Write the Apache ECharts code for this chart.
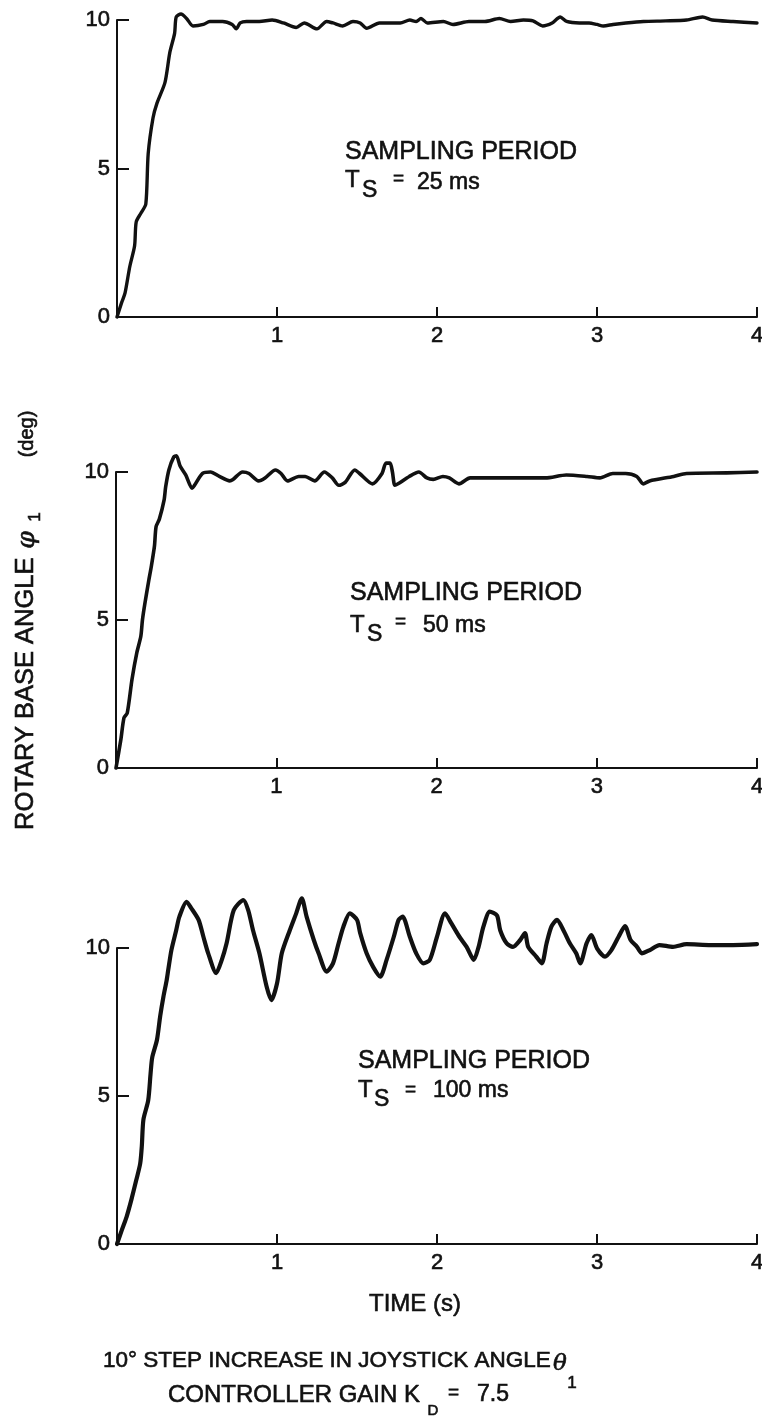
<!DOCTYPE html>
<html><head><meta charset="utf-8">
<script src="https://cdn.jsdelivr.net/npm/echarts@6/dist/echarts.min.js"></script>
<style>html,body{margin:0;padding:0;background:#fff}#c{width:762px;height:1416px}</style>
</head><body><div id="c"></div>
<script>
// ---- data (time in s, rotary base angle in deg) ----
const time1  = [0,0.03,0.05,0.08,0.11,0.12,0.15,0.18,0.195,0.225,0.25,0.3,0.33,0.36,0.37,0.40,0.435,0.475,0.54,0.58,0.66,0.72,0.745,0.77,0.81,0.89,0.97,1.04,1.12,1.17,1.25,1.31,1.35,1.41,1.475,1.52,1.56,1.64,1.77,1.83,1.87,1.90,1.94,2.04,2.1,2.2,2.3,2.39,2.46,2.54,2.6,2.66,2.72,2.77,2.81,2.89,2.95,3.0,3.04,3.1,3.18,3.29,3.43,3.56,3.66,3.72,3.85,4.0];
const angle1 = [0,0.5,0.8,1.7,2.4,3.2,3.5,3.8,5.5,6.7,7.2,7.9,8.9,9.55,10.1,10.2,10.05,9.8,9.85,9.95,9.95,9.85,9.7,9.9,9.95,9.95,10.0,9.9,9.75,9.9,9.7,9.95,9.9,9.8,9.95,9.9,9.72,9.9,9.9,10.0,9.95,10.05,9.9,9.95,9.85,9.95,9.95,10.05,9.95,10.0,9.97,9.8,9.9,10.1,9.95,9.9,9.9,9.85,9.8,9.85,9.9,9.95,9.97,10.0,10.1,10.0,9.95,9.9];

const time2  = [0,0.03,0.05,0.07,0.1,0.13,0.155,0.165,0.18,0.205,0.22,0.24,0.25,0.27,0.3,0.31,0.33,0.36,0.377,0.40,0.435,0.475,0.49,0.54,0.59,0.645,0.71,0.73,0.79,0.83,0.89,0.93,0.995,1.03,1.07,1.14,1.18,1.24,1.30,1.35,1.39,1.43,1.49,1.52,1.6,1.66,1.685,1.71,1.725,1.74,1.76,1.83,1.89,1.94,1.98,2.04,2.08,2.14,2.21,2.35,2.56,2.68,2.81,2.94,3.02,3.1,3.18,3.25,3.29,3.33,3.48,3.56,3.81,4.0];
const angle2 = [0,0.95,1.7,1.85,3.0,3.9,4.45,5.0,5.55,6.35,6.8,7.5,8.15,8.4,9.05,9.5,10.07,10.5,10.55,10.2,9.9,9.45,9.55,9.95,10.0,9.85,9.7,9.75,10.0,9.95,9.7,9.8,10.07,9.95,9.7,9.85,9.85,9.7,10.0,9.8,9.55,9.65,10.07,9.95,9.6,9.95,10.3,10.3,10.0,9.55,9.6,9.85,10.0,9.8,9.75,9.85,9.8,9.6,9.8,9.8,9.8,9.8,9.9,9.85,9.8,9.95,9.95,9.85,9.6,9.7,9.85,9.95,9.97,10.0];

const time3  = [0,0.03,0.06,0.09,0.12,0.145,0.155,0.165,0.195,0.21,0.22,0.25,0.27,0.29,0.31,0.32,0.34,0.37,0.39,0.435,0.465,0.51,0.54,0.57,0.62,0.655,0.685,0.73,0.79,0.82,0.85,0.89,0.935,0.965,1.0,1.03,1.08,1.12,1.155,1.185,1.23,1.26,1.31,1.35,1.385,1.415,1.455,1.5,1.52,1.56,1.6,1.645,1.685,1.73,1.76,1.785,1.83,1.87,1.915,1.955,2.0,2.05,2.09,2.14,2.185,2.23,2.26,2.29,2.33,2.375,2.395,2.435,2.475,2.52,2.55,2.57,2.62,2.655,2.685,2.715,2.75,2.79,2.83,2.87,2.895,2.935,2.965,3.0,3.05,3.09,3.135,3.175,3.21,3.25,3.28,3.33,3.39,3.475,3.56,3.71,3.85,4.0];
const angle3 = [0,0.47,0.92,1.5,2.15,2.72,3.3,4.2,4.85,5.77,6.3,6.9,7.7,8.35,8.9,9.25,9.93,10.6,11.06,11.56,11.34,10.95,10.38,9.82,9.15,9.6,10.16,11.28,11.62,11.28,10.6,9.82,8.7,8.24,8.8,9.82,10.6,11.17,11.68,11.06,10.27,9.82,9.2,9.48,10.16,10.72,11.17,10.95,10.5,9.82,9.37,9.03,9.6,10.38,10.95,11.06,10.38,9.82,9.48,9.6,10.38,11.17,10.83,10.38,10.04,9.6,10.04,10.72,11.23,11.1,10.6,10.16,10.04,10.27,10.5,10.04,9.71,9.48,10.16,10.72,10.95,10.6,10.16,9.82,9.48,10.16,10.44,9.99,9.71,9.93,10.38,10.74,10.27,10.04,9.82,9.93,10.1,10.04,10.13,10.1,10.1,10.13];

const samplingPeriods = ['25 ms', '50 ms', '100 ms'];
const yTickValues = [0, 5, 10];
const xTickValues = [1, 2, 3, 4];

// ---- layout ----
const FONT = '"Liberation Sans", Arial, Helvetica, sans-serif';
const SERIF = '"DejaVu Serif", "Liberation Serif", serif';
const INK = '#111';
const grids = [
  {left: 117, width: 640, top: 20, height: 297},
  {left: 116, width: 641, top: 472, height: 296},
  {left: 117, width: 640, top: 948, height: 296}
];
const lineWidths = [3.4, 3.6, 4.2];
const times = [time1, time2, time3];
const angles = [angle1, angle2, angle3];

const chart = echarts.init(document.getElementById('c'), null, {renderer: 'canvas'});

const labelStyle = {color: INK, fontSize: 22, fontFamily: FONT, textBorderColor: INK, textBorderWidth: 0.6};
const xAxes = grids.map((g, i) => ({
  type: 'value', gridIndex: i, min: 0, max: 4, interval: 1,
  axisLine: {show: true, onZero: false, lineStyle: {color: INK, width: 2}},
  axisTick: {show: true, inside: true, length: 10, lineStyle: {color: INK, width: 2}},
  axisLabel: Object.assign({show: true, margin: 8,
    formatter: v => (xTickValues.indexOf(v) >= 0 ? String(v) : '')}, labelStyle),
  splitLine: {show: false}
}));
const yAxes = grids.map((g, i) => ({
  type: 'value', gridIndex: i, min: 0, max: 10, interval: 5,
  axisLine: {show: true, lineStyle: {color: INK, width: 2}},
  axisTick: {show: true, inside: true, length: 12, lineStyle: {color: INK, width: 2}},
  axisLabel: Object.assign({show: true, margin: 7,
    formatter: v => (yTickValues.indexOf(v) >= 0 ? String(v) : '')}, labelStyle),
  splitLine: {show: false}
}));
const series = grids.map((g, i) => ({
  type: 'line', xAxisIndex: i, yAxisIndex: i,
  data: times[i].map((t, k) => [t, angles[i][k]]),
  showSymbol: false, symbol: 'none', smooth: 0.25, clip: false,
  lineStyle: {color: INK, width: lineWidths[i], cap: 'round', join: 'round'},
  animation: false
}));

function txt(x, y, text, size, opt) {
  opt = opt || {};
  return {
    type: 'text', x: x, y: y, rotation: opt.rotation || 0, silent: true,
    style: {
      text: text,
      font: (opt.style || '') + ' normal ' + size + 'px ' + (opt.family || FONT),
      fill: INK, stroke: INK, lineWidth: opt.stroke == null ? 0.6 : opt.stroke,
      textAlign: opt.align || 'left', align: opt.align || 'left',
      textVerticalAlign: 'middle', verticalAlign: 'middle'
    }
  };
}

// annotation positions per panel
const ann = [
  {x: 345, y1: 152, tY: 180, sX: 362, sY: 191, eqX: 393, eqY: 179, vX: 417, vY: 183},
  {x: 350, y1: 593, tY: 625, sX: 367, sY: 635, eqX: 395, eqY: 622, vX: 423, vY: 626},
  {x: 358, y1: 1061, tY: 1090, sX: 374, sY: 1100, eqX: 405, eqY: 1090, vX: 433, vY: 1091}
];
const graphics = [];
ann.forEach((a, i) => {
  graphics.push(txt(a.x, a.y1, 'SAMPLING PERIOD', 25));
  graphics.push(txt(a.x, a.tY, 'T', 24));
  graphics.push(txt(a.sX, a.sY, 'S', 23));
  graphics.push(txt(a.eqX, a.eqY, '=', 19));
  graphics.push(txt(a.vX, a.vY, samplingPeriods[i], 23));
});
// y axis title (rotated)
graphics.push(txt(26, 830, 'ROTARY BASE ANGLE', 25.5, {rotation: Math.PI / 2}));
graphics.push(txt(27, 540, 'φ', 25, {rotation: Math.PI / 2, align: 'center', style: 'italic', family: SERIF}));
graphics.push(txt(35, 517, '1', 17, {rotation: Math.PI / 2, align: 'center'}));
graphics.push(txt(27, 434, '(deg)', 20, {rotation: Math.PI / 2, align: 'center'}));
// x axis title and footnote
graphics.push(txt(369, 1304, 'TIME (s)', 24));
graphics.push(txt(103, 1361, '10° STEP INCREASE IN JOYSTICK ANGLE', 22.5));
graphics.push(txt(560, 1364, 'θ', 23, {align: 'center', style: 'italic', family: SERIF}));
graphics.push(txt(572, 1383, '1', 17, {align: 'center'}));
graphics.push(txt(168, 1395, 'CONTROLLER GAIN K', 24));
graphics.push(txt(433, 1411, 'D', 15, {align: 'center'}));
graphics.push(txt(448, 1393, '=', 19));
graphics.push(txt(477, 1395, '7.5', 23));

chart.setOption({
  backgroundColor: '#fff',
  animation: false,
  grid: grids.map(g => Object.assign({containLabel: false, outerBoundsMode: 'none'}, g)),
  xAxis: xAxes,
  yAxis: yAxes,
  series: series,
  graphic: {elements: graphics}
});
</script>
</body></html>
